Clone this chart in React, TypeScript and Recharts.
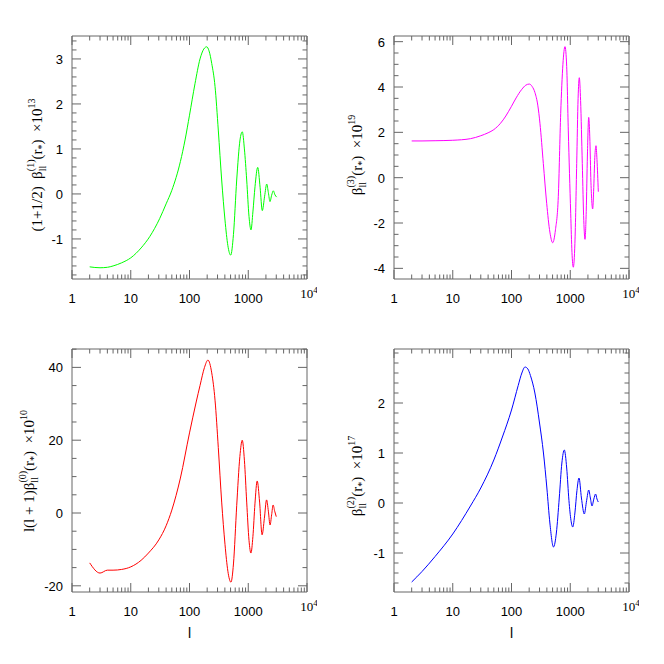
import React from 'react';
import { LineChart, Line, XAxis, YAxis } from 'recharts';

// ---------- data ----------
const tlL = [2, 3, 4, 5, 7, 10, 15, 21, 31, 40, 50, 70, 84, 100, 124, 151, 175, 196, 215, 239, 272, 309, 353, 402, 450, 503, 560, 636, 724, 792, 860, 941, 1030, 1114, 1200, 1303, 1449, 1590, 1734, 1900, 2061, 2200, 2345, 2500, 2671, 2850, 3050];
const tlV = [-1.62, -1.64, -1.63, -1.6, -1.53, -1.42, -1.2, -0.95, -0.55, -0.22, 0.08, 0.72, 1.2, 1.75, 2.45, 3.0, 3.22, 3.27, 3.18, 2.9, 2.39, 1.42, 0.31, -0.58, -1.15, -1.36, -0.9, 0.31, 1.2, 1.38, 1.0, 0.31, -0.5, -0.8, -0.4, 0.16, 0.59, 0.15, -0.37, -0.05, 0.22, 0.03, -0.17, -0.03, 0.07, -0.02, -0.07];

const trL = [2, 3, 5, 10, 20, 30, 40, 50, 65, 80, 100, 120, 150, 175, 201, 225, 251, 280, 305, 348, 397, 450, 503, 560, 626, 688, 750, 814, 870, 926, 1018, 1070, 1127, 1200, 1288, 1360, 1426, 1500, 1603, 1700, 1783, 1870, 1960, 2061, 2150, 2250, 2410, 2500, 2620, 2743, 2850, 3004];
const trV = [1.62, 1.62, 1.63, 1.65, 1.72, 1.85, 1.98, 2.12, 2.4, 2.72, 3.15, 3.52, 3.9, 4.08, 4.13, 4.02, 3.75, 3.2, 2.4, 0.63, -1.13, -2.4, -2.87, -2.3, -0.84, 2.84, 5.0, 5.78, 4.9, 2.1, -1.57, -3.3, -3.95, -2.9, 0.63, 3.5, 4.41, 3.4, 0.63, -1.9, -2.72, -1.5, 1.0, 2.66, 1.8, -0.2, -1.38, -0.6, 0.9, 1.41, 0.8, -0.62];

const blL = [2, 3, 4, 5, 7, 10, 15, 20, 30, 40, 50, 70, 100, 130, 151, 180, 206, 239, 272, 309, 353, 402, 450, 508, 560, 636, 720, 790, 860, 941, 1030, 1110, 1200, 1300, 1420, 1560, 1720, 1880, 2050, 2200, 2350, 2500, 2650, 2820, 3000];
const blV = [-13.7, -16.5, -15.7, -15.7, -15.5, -14.8, -13.0, -11.0, -7.4, -3.5, 0.8, 9.6, 22, 30.5, 35, 40, 42, 38.5, 31, 18, 3, -8.6, -16, -19, -14, 2, 15.5, 20, 14.5, 3, -7.5, -11, -6.5, 2.5, 8.8, 3, -6, -1.5, 3.6, 0.5, -3.3, -0.5, 2.2, 0.5, -1];

const brL = [2, 3, 5, 10, 20, 30, 50, 70, 100, 130, 150, 170, 190, 210, 250, 300, 350, 400, 450, 519, 580, 650, 720, 792, 870, 950, 1030, 1102, 1200, 1300, 1410, 1550, 1734, 1900, 2061, 2200, 2345, 2520, 2700, 2850, 3000];
const brV = [-1.58, -1.37, -1.07, -0.62, -0.06, 0.3, 0.86, 1.32, 1.86, 2.35, 2.6, 2.72, 2.68, 2.55, 2.2, 1.6, 1.0, 0.3, -0.4, -0.88, -0.6, 0.1, 0.8, 1.06, 0.7, 0.05, -0.35, -0.48, -0.2, 0.25, 0.5, 0.1, -0.22, 0.05, 0.26, 0.1, -0.06, 0.08, 0.18, 0.08, 0.02];

const xMajor = [1, 10, 100, 1000, 10000];
const xTicks: number[] = [];
[1, 10, 100, 1000].forEach((d) => {
  for (let k = 1; k <= 9; k++) xTicks.push(d * k);
});
xTicks.push(10000);

const tlMajor = [-1, 0, 1, 2, 3];
const trMajor = [-4, -2, 0, 2, 4, 6];
const blMajor = [-20, 0, 20, 40];
const brMajor = [-1, 0, 1, 2];

const range = (from: number, to: number, step: number) => {
  const out: number[] = [];
  const n = Math.round((to - from) / step);
  for (let i = 0; i <= n; i++) out.push(Math.round((from + i * step) * 1000) / 1000);
  return out;
};

const build = (ls: number[], vs: number[]) => ls.map((l, i) => ({ l, v: vs[i] }));

// ---------- style ----------
const AXIS = '#666';
const SANS = '"Liberation Sans", Arial, sans-serif';
const SERIF = '"Liberation Serif", "Times New Roman", serif';
const MAJ = 9;
const MIN = 4.5;

const PW = 235;
const PH = 243;
const MT = 10; // margin top inside each chart

type Panel = {
  key: string;
  left: number;
  top: number;
  data: { l: number; v: number }[];
  color: string;
  domain: [number, number];
  ticks: number[];
  majors: number[];
};

const panels: Panel[] = [
  { key: 'tl', left: 72, top: 36, data: build(tlL, tlV), color: '#00ff00', domain: [-1.89, 3.51], ticks: range(-1.8, 3.4, 0.2), majors: tlMajor },
  { key: 'tr', left: 394, top: 36, data: build(trL, trV), color: '#ff00ff', domain: [-4.47, 6.25], ticks: range(-4, 6, 0.5), majors: trMajor },
  { key: 'bl', left: 72, top: 349, data: build(blL, blV), color: '#ff0000', domain: [-21.7, 45.05], ticks: range(-20, 45, 5), majors: blMajor },
  { key: 'br', left: 394, top: 349, data: build(brL, brV), color: '#0000ff', domain: [-1.78, 3.08], ticks: range(-1.6, 3.0, 0.2), majors: brMajor },
];

const isMajorX = (v: number) => xMajor.indexOf(v) >= 0;

const XTick = (p: any) => {
  const { x, y, payload } = p;
  const v = payload.value;
  const major = isMajorX(v);
  const len = major ? MAJ : MIN;
  const yTop = y - PH;
  return (
    <g>
      <line x1={x} y1={y} x2={x} y2={y - len} stroke={AXIS} strokeWidth={1} />
      <line x1={x} y1={yTop} x2={x} y2={yTop + len} stroke={AXIS} strokeWidth={1} />
      {v === 1 && <line x1={x} y1={yTop} x2={x + PW} y2={yTop} stroke={AXIS} strokeWidth={1} />}
      {major && v !== 10000 && (
        <text x={x} y={y + 24} textAnchor="middle" fontFamily={SANS} fontSize={13} fill="#000">
          {String(v)}
        </text>
      )}
      {v === 10000 && (
        <text x={x + 2} y={y + 19} textAnchor="middle" fontFamily={SERIF} fontSize={13} fill="#000">
          10<tspan fontSize={9} dy={-5}>4</tspan>
        </text>
      )}
    </g>
  );
};

const makeYTick = (majors: number[]) => (p: any) => {
  const { x, y, payload, index } = p;
  const v = payload.value;
  const major = majors.indexOf(v) >= 0;
  const len = major ? MAJ : MIN;
  const xr = x + PW;
  return (
    <g>
      <line x1={x} y1={y} x2={x + len} y2={y} stroke={AXIS} strokeWidth={1} />
      <line x1={xr} y1={y} x2={xr - len} y2={y} stroke={AXIS} strokeWidth={1} />
      {index === 0 && <line x1={xr} y1={MT} x2={xr} y2={MT + PH} stroke={AXIS} strokeWidth={1} />}
      {major && (
        <text x={x - 9} y={y + 5} textAnchor="end" fontFamily={SANS} fontSize={13} fill="#000">
          {String(v)}
        </text>
      )}
    </g>
  );
};

const PanelChart = ({ panel }: { panel: Panel }) => {
  const YT = makeYTick(panel.majors);
  return (
    <div style={{ position: 'absolute', left: panel.left - 60, top: panel.top - MT }}>
      <LineChart width={PW + 70} height={PH + 70} data={panel.data} margin={{ top: MT, right: 10, bottom: 10, left: 10 }}>
        <XAxis
          dataKey="l"
          type="number"
          scale="log"
          domain={[1, 10000]}
          allowDataOverflow
          ticks={xTicks}
          interval={0}
          height={50}
          tickSize={0}
          tickMargin={0}
          axisLine={{ stroke: AXIS }}
          tickLine={false}
          tick={(p: any) => <XTick {...p} />}
        />
        <YAxis
          type="number"
          domain={panel.domain}
          allowDataOverflow
          ticks={panel.ticks}
          interval={0}
          width={50}
          tickSize={0}
          tickMargin={0}
          axisLine={{ stroke: AXIS }}
          tickLine={false}
          tick={(p: any) => <YT {...p} />}
        />
        <Line
          dataKey="v"
          type="monotone"
          stroke={panel.color}
          strokeWidth={1}
          dot={false}
          isAnimationActive={false}
        />
      </LineChart>
    </div>
  );
};

const YTitle = ({ x, y, pre, idx, exp }: { x: number; y: number; pre: string; idx: string; exp: string }) => (
  <text
    x={x}
    y={y}
    transform={`rotate(-90 ${x} ${y})`}
    textAnchor="middle"
    fontFamily={SERIF}
    fontSize={15}
    fill="#000"
    style={{ whiteSpace: 'pre' }}
  >
    {pre}β
    <tspan fontSize={10} dy={4}>ll</tspan>
    <tspan fontSize={10} dx={-5.5} dy={-12}>({idx})</tspan>
    <tspan dy={8}>(r</tspan>
    <tspan fontSize={10} dy={3}>*</tspan>
    <tspan dy={-3}>{')  ×10'}</tspan>
    <tspan fontSize={10} dy={-7}>{exp}</tspan>
  </text>
);

export default function App() {
  return (
    <div style={{ position: 'absolute', left: 0, top: 0, width: 664, height: 664, background: '#fff' }}>
      {panels.map((p) => (
        <PanelChart key={p.key} panel={p} />
      ))}
      <svg width={664} height={664} style={{ position: 'absolute', left: 0, top: 0, pointerEvents: 'none' }}>
        <YTitle x={42} y={165} pre={'(1+1/2)  '} idx="1" exp="13" />
        <YTitle x={362} y={155} pre="" idx="3" exp="19" />
        <YTitle x={34} y={471} pre="l(l + 1)" idx="0" exp="10" />
        <YTitle x={362} y={476} pre="" idx="2" exp="17" />
        <text x={189.5} y={638} textAnchor="middle" fontFamily={SANS} fontSize={14} fill="#000">l</text>
        <text x={511.5} y={638} textAnchor="middle" fontFamily={SANS} fontSize={14} fill="#000">l</text>
      </svg>
    </div>
  );
}
